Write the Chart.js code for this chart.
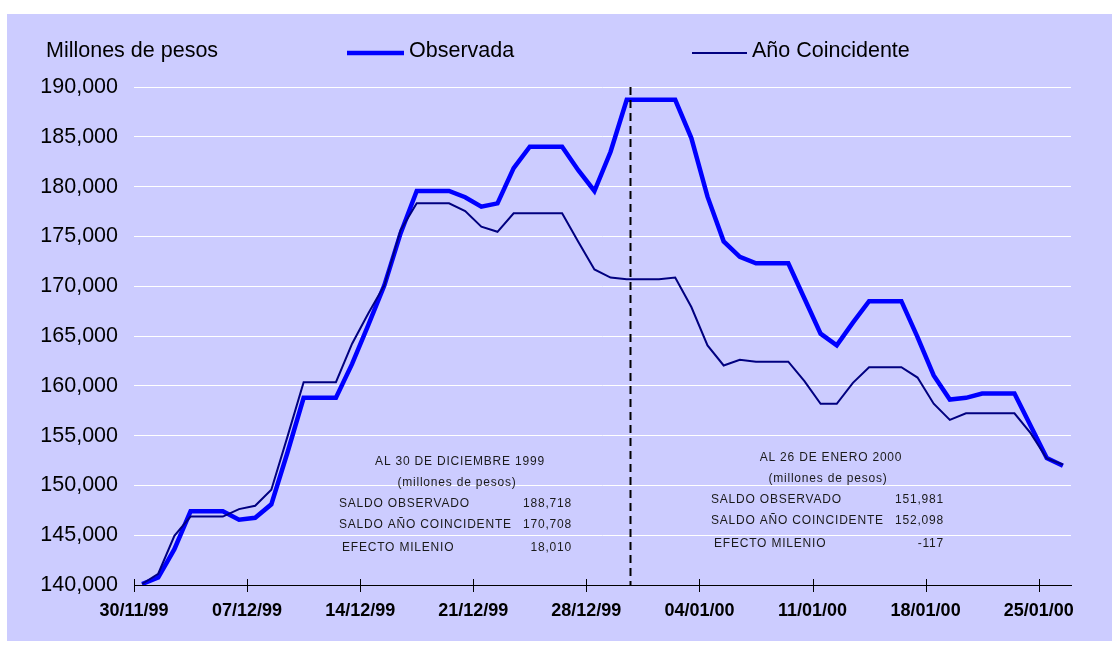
<!DOCTYPE html>
<html lang="es">
<head>
<meta charset="utf-8">
<title>Millones de pesos</title>
<script src="https://cdn.jsdelivr.net/npm/chart.js@4.4.0/dist/chart.umd.min.js"></script>
<style>
  html, body { margin: 0; padding: 0; background: #fff; }
  #wrap { width: 1112px; height: 658px; }
</style>
</head>
<body>
<div id="wrap"><canvas id="grafica" width="1112" height="658"></canvas></div>
<script>
// saldos diarios, millones de pesos
const fechas = [
  '30/11/99', '01/12/99', '02/12/99', '03/12/99', '04/12/99', '05/12/99', '06/12/99', '07/12/99',
  '08/12/99', '09/12/99', '10/12/99', '11/12/99', '12/12/99', '13/12/99', '14/12/99', '15/12/99',
  '16/12/99', '17/12/99', '18/12/99', '19/12/99', '20/12/99', '21/12/99', '22/12/99', '23/12/99',
  '24/12/99', '25/12/99', '26/12/99', '27/12/99', '28/12/99', '29/12/99', '30/12/99', '31/12/99',
  '01/01/00', '02/01/00', '03/01/00', '04/01/00', '05/01/00', '06/01/00', '07/01/00', '08/01/00',
  '09/01/00', '10/01/00', '11/01/00', '12/01/00', '13/01/00', '14/01/00', '15/01/00', '16/01/00',
  '17/01/00', '18/01/00', '19/01/00', '20/01/00', '21/01/00', '22/01/00', '23/01/00', '24/01/00',
  '25/01/00', '26/01/00'
];

const observada = [
  140100, 140750, 143600, 147400, 147400, 147400, 146550, 146750, 148100, 153300,
  158800, 158800, 158800, 162200, 166100, 170100, 175300, 179560, 179560, 179560,
  178930, 177980, 178320, 181850, 184000, 184000, 184000, 181650, 179560, 183500,
  188718, 188718, 188718, 188718, 184870, 178990, 174500, 172950, 172300, 172300,
  172300, 168760, 165235, 164060, 166340, 168500, 168500, 168500, 164890, 161040,
  158620, 158790, 159220, 159220, 159220, 156000, 152750, 151981
];

const coincidente = [
  140100, 141130, 144930, 146870, 146870, 146870, 147620, 147950, 149560, 154900,
  160360, 160360, 160360, 164230, 167250, 170100, 175630, 178320, 178320, 178320,
  177550, 175970, 175460, 177320, 177320, 177320, 177320, 174460, 171680, 170870,
  170708, 170708, 170708, 170870, 167910, 164060, 162040, 162620, 162420, 162420,
  162420, 160460, 158190, 158190, 160300, 161870, 161870, 161870, 160830, 158200,
  156580, 157240, 157240, 157240, 157240, 155250, 152700, 152098
];

const etiquetasX = ['30/11/99', '07/12/99', '14/12/99', '21/12/99', '28/12/99',
  '04/01/00', '11/01/00', '18/01/00', '25/01/00'];

const yMin = 140000;
const yMax = 190000;
const yPaso = 5000;

// cuadros de resumen
const resumen1 = {
  titulo: 'AL 30 DE DICIEMBRE 1999',
  filas: ['SALDO OBSERVADO', 'SALDO AÑO COINCIDENTE', 'EFECTO MILENIO'],
  valores: ['188,718', '170,708', '18,010']
};
const resumen2 = {
  titulo: 'AL 26 DE ENERO 2000',
  filas: ['SALDO OBSERVADO', 'SALDO AÑO COINCIDENTE', 'EFECTO MILENIO'],
  valores: ['151,981', '152,098', '-117']
};

const FUENTE = 'Arial, "Liberation Sans", sans-serif';
const posTicks = etiquetasX.map(e => fechas.indexOf(e));
const corte = fechas.indexOf('30/12/99') + 0.7;

const puntos = serie => serie.map((v, i) => ({ x: i + 0.5, y: v }));

const fondo = {
  id: 'fondo',
  beforeDraw(chart) {
    const ctx = chart.ctx;
    ctx.save();
    ctx.fillStyle = '#ccccff';
    ctx.fillRect(7, 14, chart.width - 7, 627);
    ctx.restore();
  }
};

function texto(ctx, s, x, y, align) {
  ctx.textAlign = align;
  ctx.fillText(s, x, y);
}

function cuadro(ctx, r, cx, xi, xd, y0) {
  ctx.font = '12px ' + FUENTE;
  ctx.letterSpacing = '0.8px';
  ctx.fillStyle = '#1a1a1a';
  ctx.textBaseline = 'middle';
  texto(ctx, r.titulo, cx, y0, 'center');
  texto(ctx, '(millones de pesos)', cx - 3, y0 + 21, 'center');
  const dy = [42, 63, 86];
  r.filas.forEach((f, k) => {
    texto(ctx, f, xi + (k === 2 ? 3 : 0), y0 + dy[k], 'left');
    texto(ctx, r.valores[k], xd, y0 + dy[k], 'right');
  });
  ctx.letterSpacing = '0px';
}

const extras = {
  id: 'extras',
  afterDraw(chart) {
    const ctx = chart.ctx;
    const x = chart.scales.x;
    const area = chart.chartArea;
    ctx.save();

    // marcas del eje horizontal
    ctx.strokeStyle = '#000';
    ctx.lineWidth = 1;
    posTicks.forEach(v => {
      const px = Math.round(x.getPixelForValue(v)) + 0.5;
      ctx.beginPath();
      ctx.moveTo(px, area.bottom - 6);
      ctx.lineTo(px, area.bottom + 7);
      ctx.stroke();
    });

    // línea de corte al 30 de diciembre
    const pc = Math.round(x.getPixelForValue(corte)) + 0.5;
    ctx.lineWidth = 2;
    ctx.setLineDash([8, 5]);
    ctx.beginPath();
    ctx.moveTo(pc, area.top);
    ctx.lineTo(pc, area.bottom);
    ctx.stroke();
    ctx.setLineDash([]);

    // encabezado y leyenda
    ctx.fillStyle = '#000';
    ctx.font = '21.5px ' + FUENTE;
    ctx.textBaseline = 'middle';
    texto(ctx, 'Millones de pesos', 46, 51, 'left');
    const ds = chart.data.datasets;
    const leyenda = [
      { d: ds[0], x0: 347, x1: 404 },
      { d: ds[1], x0: 692, x1: 747 }
    ];
    leyenda.forEach(l => {
      ctx.strokeStyle = l.d.borderColor;
      ctx.lineWidth = l.d.borderWidth;
      ctx.beginPath();
      ctx.moveTo(l.x0, 53);
      ctx.lineTo(l.x1, 53);
      ctx.stroke();
      texto(ctx, l.d.label, l.x1 + 5, 51, 'left');
    });

    cuadro(ctx, resumen1, 460, 339, 572, 462);
    cuadro(ctx, resumen2, 831, 711, 944, 458);
    ctx.restore();
  }
};

new Chart(document.getElementById('grafica'), {
  type: 'line',
  data: {
    datasets: [
      {
        label: 'Observada',
        data: puntos(observada),
        borderColor: '#0000ff',
        borderWidth: 4.5,
        pointRadius: 0,
        tension: 0,
        order: 2
      },
      {
        label: 'Año Coincidente',
        data: puntos(coincidente),
        borderColor: '#000080',
        borderWidth: 2,
        pointRadius: 0,
        tension: 0,
        order: 1
      }
    ]
  },
  options: {
    responsive: false,
    animation: false,
    layout: { padding: { left: 0, top: 87, right: 41, bottom: 0 } },
    plugins: {
      legend: { display: false },
      tooltip: { enabled: false }
    },
    scales: {
      x: {
        type: 'linear',
        min: 0,
        max: fechas.length,
        afterBuildTicks: axis => { axis.ticks = posTicks.map(v => ({ value: v })); },
        afterFit: axis => { axis.height = 73; },
        grid: { display: false, drawTicks: false },
        border: { display: true, color: '#000', width: 1 },
        ticks: {
          padding: 15,
          maxRotation: 0,
          autoSkip: false,
          color: '#000',
          font: { family: FUENTE, size: 18, weight: 'bold' },
          callback: v => fechas[v]
        }
      },
      y: {
        min: yMin,
        max: yMax,
        afterFit: axis => { axis.width = 134; },
        grid: {
          color: c => (c.tick && c.tick.value === yMin ? 'rgba(0,0,0,0)' : '#ffffff'),
          lineWidth: 1,
          drawTicks: false
        },
        border: { display: false },
        ticks: {
          stepSize: yPaso,
          padding: 16,
          color: '#000',
          font: { family: FUENTE, size: 21.5 },
          callback: v => v.toLocaleString('en-US')
        }
      }
    }
  },
  plugins: [fondo, extras]
});
</script>
</body>
</html>
